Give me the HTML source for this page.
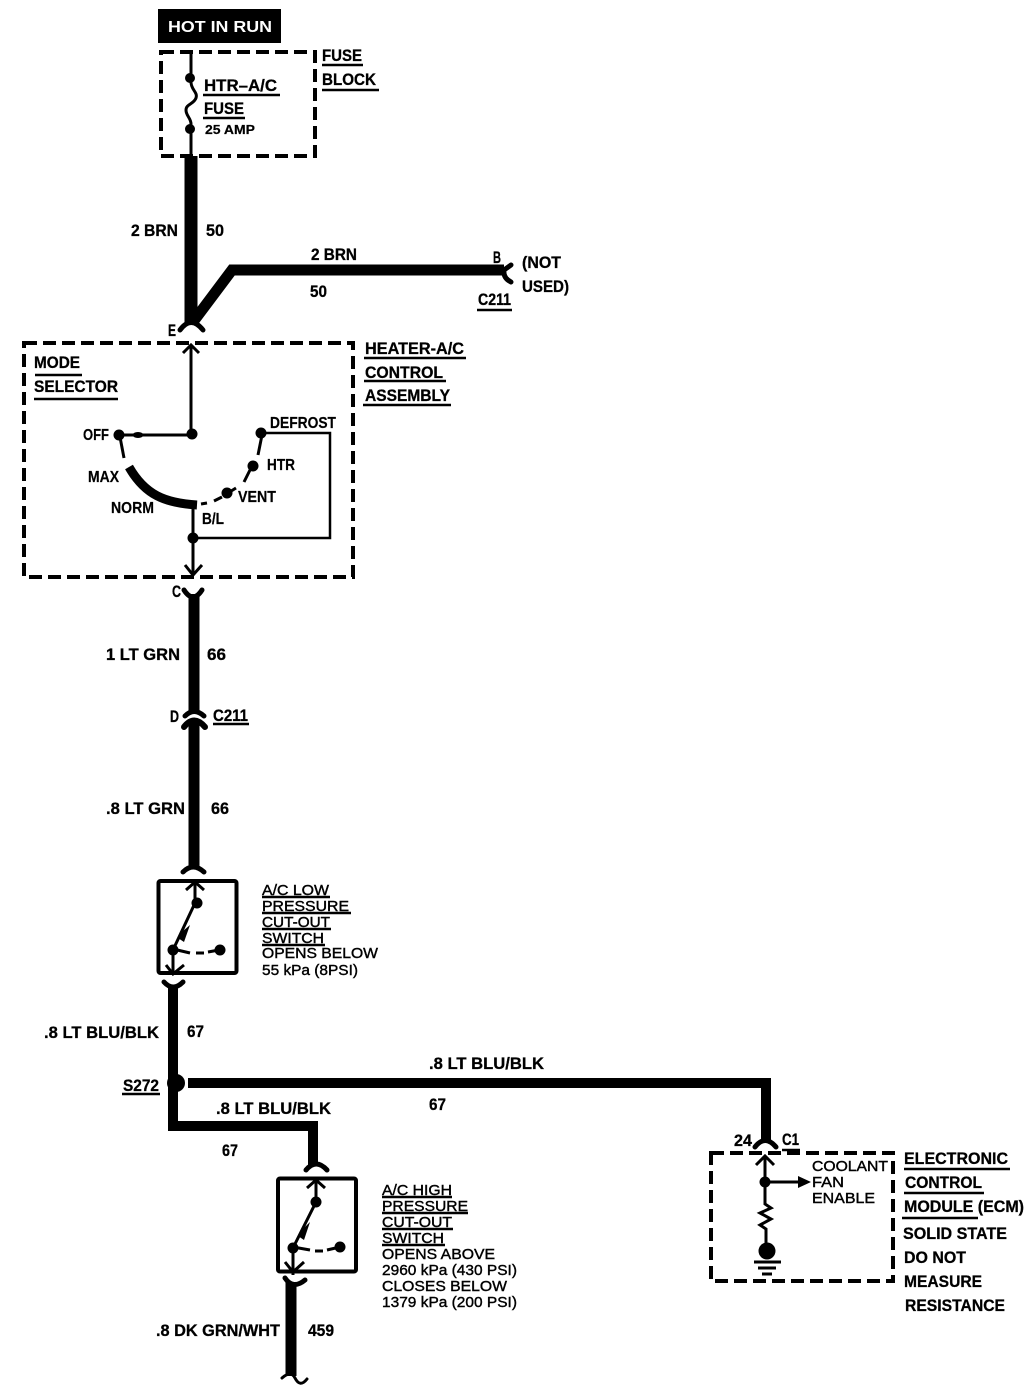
<!DOCTYPE html>
<html><head><meta charset="utf-8"><style>
html,body{margin:0;padding:0;background:#fff}
svg{display:block}
text{font-family:"Liberation Sans",sans-serif;fill:#000}
.b{font-weight:bold;font-size:17px;stroke:#000;stroke-width:.3}
.s{font-weight:bold;font-size:15.5px;stroke:#000;stroke-width:.2}
.a{font-size:14.5px;stroke:#000;stroke-width:.4}
.l{stroke:#000;fill:none}
</style></head><body>
<svg width="1024" height="1386" viewBox="0 0 1024 1386" xmlns="http://www.w3.org/2000/svg" stroke-linecap="butt">
<rect width="1024" height="1386" fill="#fff"/>
<!-- Hot in run -->
<rect x="158" y="9" width="123" height="34" fill="#000"/>
<text x="168" y="32" font-size="16" font-weight="bold" style="fill:#fff" textLength="104" lengthAdjust="spacingAndGlyphs">HOT IN RUN</text>
<!-- dashed boxes -->
<g class="l" stroke-width="4" stroke-dasharray="13 6">
<rect x="161" y="52" width="154" height="104"/>
<rect x="24" y="343" width="329" height="234"/>
<rect x="711" y="1153" width="182" height="128"/>
</g>
<!-- fuse -->
<path class="l" stroke-width="3" d="M191 52V82 C191 90 198 92 196 98 C194 104 186 104 186 110 C186 116 191 118 191 124V156"/>
<circle cx="190" cy="78" r="5"/><circle cx="190" cy="129" r="5"/>
<!-- thick wires -->
<g class="l" stroke-width="13">
<path d="M191 156V322"/>
</g>
<g class="l" stroke-width="11">
<path d="M193 322L232 270H504"/>
<path d="M194 594V712"/>
<path d="M194 720V868"/>
<path d="M291 1282V1376"/>
</g>
<g class="l" stroke-width="10">
<path d="M173 986V1126H313V1166"/>
<path d="M188 1083H766V1140"/>
</g>
<circle cx="176" cy="1083" r="9"/>
<!-- fork ends -->
<g class="l" stroke-width="5" stroke-linecap="round">
<path d="M180 330Q191 315 203 330"/>
<path d="M504 270L511 265M504 270Q503 278 511 282"/>
<path d="M184 590Q193 604 202 590"/>
<path d="M185 716Q194 707 204 716"/>
<path d="M184 727Q194 714 205 727" stroke-width="6"/>
<path d="M183 872Q193 862 204 872"/>
<path d="M164 982Q173 992 183 982"/>
<path d="M306 1170Q316 1158 327 1170"/>
<path d="M285 1278Q293 1290 305 1280"/>
<path d="M755 1147Q765 1134 776 1147"/>
<path d="M282 1378Q291 1370 295 1378Q300 1388 307 1379" stroke-width="3"/>
</g>
<!-- heater control internals -->
<g class="l" stroke-width="3">
<path d="M191 346V435H120"/>
<path d="M183 353L191 345L199 353"/>
<path d="M193 505V575"/>
<path d="M185 565L193 575L202 565"/>
<path d="M261 433H330V538H193" stroke-width="2.500"/>
<path d="M120 437L124 458"/>
<path d="M262 435L258 455M250 470L244 482M236 488L228 493M222 497L214 501M207 503L201 504"/>
</g>
<path class="l" stroke-width="9" d="M129 467C145 495 165 503 197 505"/>
<circle cx="119" cy="435" r="5.500"/><circle cx="192" cy="434" r="5.500"/><circle cx="261" cy="433" r="5.500"/>
<circle cx="253" cy="466" r="5.500"/><circle cx="227" cy="493" r="5.500"/><circle cx="193" cy="538" r="5.500"/>
<ellipse cx="138" cy="435" rx="5.500" ry="3"/>
<!-- switch 1 -->
<rect x="158.500" y="881" width="78" height="92" rx="2" fill="none" stroke="#000" stroke-width="4"/>
<g class="l" stroke-width="3">
<path d="M195 883V903L173 950V975"/>
<path d="M186 890L195 882L204 890"/>
<path d="M166 965L173 974L184 965"/>
<path d="M173 949L190 953M196 953H204M208 952L219 950"/>
</g>
<circle cx="197" cy="903" r="5.500"/><circle cx="173" cy="950" r="5.500"/><circle cx="220" cy="950" r="5.500"/>
<path d="M183 931L190 925L184 942L178 938Z"/>
<!-- switch 2 -->
<rect x="278" y="1178.500" width="78" height="93" rx="2" fill="none" stroke="#000" stroke-width="4"/>
<g class="l" stroke-width="3">
<path d="M316 1182V1202L293 1248V1275"/>
<path d="M307 1188L316 1180L325 1188"/>
<path d="M285 1262L293 1272L304 1262"/>
<path d="M293 1247L310 1250M315 1251H323M327 1250L340 1247"/>
</g>
<circle cx="316" cy="1202" r="5.500"/><circle cx="293" cy="1248" r="5.500"/><circle cx="340" cy="1247" r="5.500"/>
<path d="M303 1229L310 1222L304 1240L298 1236Z"/>
<!-- ECM internals -->
<g class="l" stroke-width="3">
<path d="M765 1156V1204L771 1208L760 1213L771 1219L760 1225L766 1229V1246"/>
<path d="M756 1165L765 1156L774 1165"/>
<path d="M765 1182H800"/>
<path d="M754 1262H781"/><path d="M758 1268H776"/><path d="M762 1274H772"/>
</g>
<circle cx="765" cy="1182" r="5.500"/>
<path d="M798 1176L811 1182L798 1188Z"/>
<circle cx="767" cy="1251" r="8.500"/>
<!-- underlines -->
<g class="l" stroke-width="2.500">
<path d="M203 95H280M203 118H245M322 65H363M322 90H379"/>
<path d="M477 310H512M364 358H466M364 381H446M363 405H451"/>
<path d="M35 375H82M34 399H118"/>
<path d="M213 724H249M122 1094H160"/>
<path d="M262 897H330M262 913H351M262 929H331M262 945H325"/>
<path d="M382 1197H452M382 1213H468M382 1229H453M382 1245H445"/>
<path d="M782 1150H800M904 1169H1010M904 1193H984M902 1218H978"/>
</g>
<!-- bold labels -->
<g class="b">
<text x="204" y="91" textLength="73" lengthAdjust="spacingAndGlyphs">HTR–A/C</text>
<text x="204" y="114" textLength="40" lengthAdjust="spacingAndGlyphs">FUSE</text>
<text x="322" y="61" textLength="40" lengthAdjust="spacingAndGlyphs">FUSE</text>
<text x="322" y="85" textLength="54" lengthAdjust="spacingAndGlyphs">BLOCK</text>
<text x="131" y="236" textLength="47" lengthAdjust="spacingAndGlyphs">2 BRN</text>
<text x="206" y="236" textLength="18" lengthAdjust="spacingAndGlyphs">50</text>
<text x="311" y="260" textLength="46" lengthAdjust="spacingAndGlyphs">2 BRN</text>
<text x="310" y="297" textLength="17" lengthAdjust="spacingAndGlyphs">50</text>
<text x="493" y="263" textLength="8" lengthAdjust="spacingAndGlyphs">B</text>
<text x="522" y="268" textLength="39" lengthAdjust="spacingAndGlyphs">(NOT</text>
<text x="522" y="292" textLength="47" lengthAdjust="spacingAndGlyphs">USED)</text>
<text x="478" y="305" textLength="33" lengthAdjust="spacingAndGlyphs">C211</text>
<text x="168" y="336" textLength="8" lengthAdjust="spacingAndGlyphs">E</text>
<text x="365" y="354" textLength="99" lengthAdjust="spacingAndGlyphs">HEATER-A/C</text>
<text x="365" y="378" textLength="78" lengthAdjust="spacingAndGlyphs">CONTROL</text>
<text x="365" y="401" textLength="85" lengthAdjust="spacingAndGlyphs">ASSEMBLY</text>
<text x="34" y="368" textLength="46" lengthAdjust="spacingAndGlyphs">MODE</text>
<text x="34" y="392" textLength="84" lengthAdjust="spacingAndGlyphs">SELECTOR</text>
<text x="172" y="597" textLength="9" lengthAdjust="spacingAndGlyphs">C</text>
<text x="106" y="660" textLength="74" lengthAdjust="spacingAndGlyphs">1 LT GRN</text>
<text x="207" y="660" textLength="19" lengthAdjust="spacingAndGlyphs">66</text>
<text x="170" y="722" textLength="9" lengthAdjust="spacingAndGlyphs">D</text>
<text x="213" y="721" textLength="35" lengthAdjust="spacingAndGlyphs">C211</text>
<text x="106" y="814" textLength="79" lengthAdjust="spacingAndGlyphs">.8 LT GRN</text>
<text x="211" y="814" textLength="18" lengthAdjust="spacingAndGlyphs">66</text>
<text x="44" y="1038" textLength="115" lengthAdjust="spacingAndGlyphs">.8 LT BLU/BLK</text>
<text x="187" y="1037" textLength="17" lengthAdjust="spacingAndGlyphs">67</text>
<text x="123" y="1091" textLength="36" lengthAdjust="spacingAndGlyphs">S272</text>
<text x="429" y="1069" textLength="115" lengthAdjust="spacingAndGlyphs">.8 LT BLU/BLK</text>
<text x="429" y="1110" textLength="17" lengthAdjust="spacingAndGlyphs">67</text>
<text x="216" y="1114" textLength="115" lengthAdjust="spacingAndGlyphs">.8 LT BLU/BLK</text>
<text x="222" y="1156" textLength="16" lengthAdjust="spacingAndGlyphs">67</text>
<text x="156" y="1336" textLength="124" lengthAdjust="spacingAndGlyphs">.8 DK GRN/WHT</text>
<text x="308" y="1336" textLength="26" lengthAdjust="spacingAndGlyphs">459</text>
<text x="734" y="1146" textLength="18" lengthAdjust="spacingAndGlyphs">24</text>
<text x="782" y="1145" textLength="17" lengthAdjust="spacingAndGlyphs">C1</text>
<text x="904" y="1164" textLength="104" lengthAdjust="spacingAndGlyphs">ELECTRONIC</text>
<text x="905" y="1188" textLength="77" lengthAdjust="spacingAndGlyphs">CONTROL</text>
<text x="904" y="1212" textLength="120" lengthAdjust="spacingAndGlyphs">MODULE (ECM)</text>
<text x="903" y="1239" textLength="104" lengthAdjust="spacingAndGlyphs">SOLID STATE</text>
<text x="904" y="1263" textLength="62" lengthAdjust="spacingAndGlyphs">DO NOT</text>
<text x="904" y="1287" textLength="78" lengthAdjust="spacingAndGlyphs">MEASURE</text>
<text x="905" y="1311" textLength="100" lengthAdjust="spacingAndGlyphs">RESISTANCE</text>
</g>
<!-- small labels -->
<g class="s">
<text x="205" y="134" style="font-size:13px" textLength="50" lengthAdjust="spacingAndGlyphs">25 AMP</text>
<text x="83" y="440" textLength="26" lengthAdjust="spacingAndGlyphs">OFF</text>
<text x="270" y="428" textLength="66" lengthAdjust="spacingAndGlyphs">DEFROST</text>
<text x="267" y="470" textLength="28" lengthAdjust="spacingAndGlyphs">HTR</text>
<text x="88" y="482" textLength="31" lengthAdjust="spacingAndGlyphs">MAX</text>
<text x="238" y="502" textLength="38" lengthAdjust="spacingAndGlyphs">VENT</text>
<text x="111" y="513" textLength="43" lengthAdjust="spacingAndGlyphs">NORM</text>
<text x="202" y="524" textLength="22" lengthAdjust="spacingAndGlyphs">B/L</text>
</g>
<!-- Arial-like labels -->
<g class="a">
<text x="262" y="895" textLength="67" lengthAdjust="spacingAndGlyphs">A/C LOW</text>
<text x="262" y="911" textLength="87" lengthAdjust="spacingAndGlyphs">PRESSURE</text>
<text x="262" y="927" textLength="68" lengthAdjust="spacingAndGlyphs">CUT-OUT</text>
<text x="262" y="943" textLength="62" lengthAdjust="spacingAndGlyphs">SWITCH</text>
<text x="262" y="958" textLength="116" lengthAdjust="spacingAndGlyphs">OPENS BELOW</text>
<text x="262" y="975" textLength="96" lengthAdjust="spacingAndGlyphs">55 kPa (8PSI)</text>
<text x="382" y="1195" textLength="70" lengthAdjust="spacingAndGlyphs">A/C HIGH</text>
<text x="382" y="1211" textLength="86" lengthAdjust="spacingAndGlyphs">PRESSURE</text>
<text x="382" y="1227" textLength="70" lengthAdjust="spacingAndGlyphs">CUT-OUT</text>
<text x="382" y="1243" textLength="62" lengthAdjust="spacingAndGlyphs">SWITCH</text>
<text x="382" y="1259" textLength="113" lengthAdjust="spacingAndGlyphs">OPENS ABOVE</text>
<text x="382" y="1275" textLength="135" lengthAdjust="spacingAndGlyphs">2960 kPa (430 PSI)</text>
<text x="382" y="1291" textLength="125" lengthAdjust="spacingAndGlyphs">CLOSES BELOW</text>
<text x="382" y="1307" textLength="135" lengthAdjust="spacingAndGlyphs">1379 kPa (200 PSI)</text>
<text x="812" y="1171" textLength="76" lengthAdjust="spacingAndGlyphs">COOLANT</text>
<text x="812" y="1187" textLength="32" lengthAdjust="spacingAndGlyphs">FAN</text>
<text x="812" y="1203" textLength="63" lengthAdjust="spacingAndGlyphs">ENABLE</text>
</g>
</svg>
</body></html>
